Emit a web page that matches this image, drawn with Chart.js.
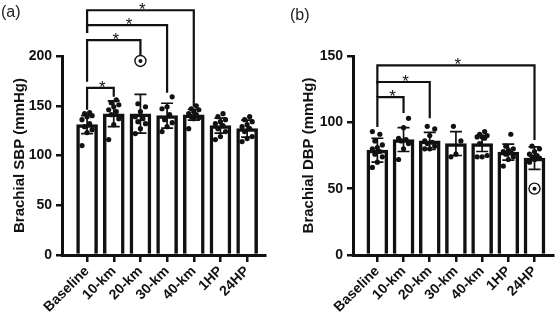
<!DOCTYPE html>
<html><head><meta charset="utf-8">
<script src="https://cdn.jsdelivr.net/npm/chart.js@4"></script>
<style>
body{margin:0;background:#fff;width:560px;height:322px;overflow:hidden;position:relative;font-family:"Liberation Sans",Arial,sans-serif}
.panel{position:absolute;top:0;width:280px;height:322px}
.lab{position:absolute;font-size:16px;color:#222;line-height:1}
</style></head><body>
<div class="panel" style="left:0"><canvas id="cA" width="280" height="322"></canvas></div>
<div class="panel" style="left:280px"><canvas id="cB" width="280" height="322"></canvas></div>
<div class="lab" style="left:1px;top:4px">(a)</div>
<div class="lab" style="left:290px;top:7px">(b)</div>
<script>
// ---------- data ----------
const categories = ['Baseline','10-km','20-km','30-km','40-km','1HP','24HP'];

// Panel (a): brachial SBP
const sbpMean = [131, 142, 142, 140, 141, 130, 127];
const sbpSD   = [9, 13, 19.5, 12.5, 5.5, 7.5, 8.5];
const sbpPoints = [
  [110, 123, 126, 129, 132, 136, 139, 140, 142, 143],
  [116, 131, 137, 141, 144, 146, 149, 151, 153, 156],
  [122, 127, 132, 134, 137, 139, 144, 149, 152],
  [124, 129, 133, 136, 141, 147, 149, 159],
  [127, 137, 138, 139, 141, 142, 144, 146, 147, 150],
  [116, 119, 124, 127, 130, 132, 134, 136, 139, 142],
  [114, 117, 119, 124, 127, 129, 131, 134, 136, 139]
];
const sbpOutliers = [null, null, 195, null, null, null, null];
const sbpTicks = [0, 50, 100, 150, 200];
const sbpBracketTo        = [4, 3, 2, 1];
const sbpBracketLevel     = [246, 231, 216, 168];
const sbpBracketLeftEnd   = [223, 223, 174, 146];
const sbpBracketRightEnd  = [149, 163, 201, 159];

// Panel (b): brachial DBP
const dbpMean = [79, 87, 86, 84, 84, 77.5, 73];
const dbpSD   = [9, 9, 6.4, 9, 6, 6, 8.5];
const dbpPoints = [
  [66, 70, 74, 76, 78, 80, 81, 83, 86, 91, 93],
  [72, 80, 84, 86, 87, 88, 96, 103],
  [80, 80, 82, 84, 85, 86, 90, 95, 97],
  [74, 76, 86, 97],
  [74, 74, 75, 84, 88, 89, 89, 90, 91, 93],
  [67, 72, 74, 76, 77, 78, 79, 80, 82, 91],
  [70, 72, 73, 74, 75, 76, 78, 80, 82]
];
const dbpOutliers = [null, null, null, null, null, null, 50];
const dbpTicks = [0, 50, 100, 150];
const dbpBracketTo        = [6, 2, 1];
const dbpBracketLevel     = [143, 130.4, 119];
const dbpBracketLeftEnd   = [129, 119, 96.5];
const dbpBracketRightEnd  = [86.7, 103, 107];

// ---------- drawing ----------
const FONT = '"Liberation Sans", Arial, sans-serif';
function jitter(k){ return (((k * 7) % 5) - 2) * 0.095; }

const overlay = {
  id: 'overlay',
  afterDatasetsDraw(chart) {
    const o = chart.options.plugins.overlay;
    const xs = chart.scales.x, ys = chart.scales.y, ctx = chart.ctx;
    ctx.save();
    ctx.strokeStyle = '#111'; ctx.lineWidth = 1.7;
    o.mean.forEach((m, i) => {
      const x = xs.getPixelForValue(i);
      const yt = ys.getPixelForValue(m + o.sd[i]);
      const yb = ys.getPixelForValue(m - o.sd[i]);
      ctx.beginPath();
      ctx.moveTo(x, yt); ctx.lineTo(x, yb);
      ctx.moveTo(x - 6, yt); ctx.lineTo(x + 6, yt);
      ctx.moveTo(x - 6, yb); ctx.lineTo(x + 6, yb);
      ctx.stroke();
    });
    ctx.restore();
  },
  afterDraw(chart) {
    const o = chart.options.plugins.overlay;
    const xs = chart.scales.x, ys = chart.scales.y, ctx = chart.ctx;
    ctx.save();
    ctx.strokeStyle = '#111'; ctx.lineWidth = 2.2; ctx.lineJoin = 'miter';
    ctx.fillStyle = '#111';
    ctx.font = '17px ' + FONT;
    ctx.textAlign = 'center'; ctx.textBaseline = 'alphabetic';
    o.to.forEach((t, k) => {
      const x0 = xs.getPixelForValue(0), x1 = xs.getPixelForValue(t);
      const yl = ys.getPixelForValue(o.level[k]);
      ctx.beginPath();
      ctx.moveTo(x0, ys.getPixelForValue(o.leftEnd[k]));
      ctx.lineTo(x0, yl); ctx.lineTo(x1, yl);
      ctx.lineTo(x1, ys.getPixelForValue(o.rightEnd[k]));
      ctx.stroke();
      ctx.fillText('*', (x0 + x1) / 2 + 2, yl + 5);
    });
    ctx.restore();
  }
};

function makeChart(id, p) {
  const pts = [];
  p.points.forEach((arr, i) => arr.forEach((v, k) => pts.push({x: i + jitter(k), y: v})));
  const outs = [];
  p.outliers.forEach((v, i) => { if (v !== null) outs.push({x: i, y: v}); });
  const bars = p.mean.map((m, i) => ({x: i, y: m}));
  return new Chart(document.getElementById(id), {
    type: 'bar',
    data: { datasets: [
      { type: 'scatter', data: outs, pointRadius: 2, pointBackgroundColor: '#111', pointBorderWidth: 0, order: 0, clip: false },
      { type: 'scatter', data: outs, pointRadius: 5.5, pointBackgroundColor: '#fff', pointBorderColor: '#111', pointBorderWidth: 1.4, order: 1, clip: false },
      { type: 'scatter', data: pts, pointRadius: 2.6, pointBackgroundColor: '#111', pointBorderWidth: 0, order: 2, clip: false },
      { type: 'bar', data: bars, backgroundColor: '#fff', borderColor: '#111', borderWidth: 3.5, barThickness: 21, borderSkipped: 'start', order: 3 }
    ]},
    options: {
      responsive: false, animation: false, devicePixelRatio: 1,
      layout: { padding: { top: 56, right: p.padRight, left: 0, bottom: 0 } },
      plugins: { legend: { display: false }, tooltip: { enabled: false },
        overlay: { mean: p.mean, sd: p.sd, to: p.to, level: p.level, leftEnd: p.leftEnd, rightEnd: p.rightEnd } },
      scales: {
        x: {
          type: 'linear', min: p.xmin, max: p.xmax, offset: false,
          afterBuildTicks: s => { s.ticks = categories.map((c, i) => ({value: i})); },
          afterFit: s => { s.height = 67; s.paddingLeft = 0; s.paddingRight = 0; },
          grid: { display: true, offset: false, drawOnChartArea: false, drawTicks: true, tickLength: 7, color: '#111', lineWidth: 2.5 },
          border: { display: true, color: '#111', width: 3 },
          ticks: { autoSkip: false, minRotation: 45, maxRotation: 45, padding: 1, color: '#111',
                   font: { family: FONT, size: 14, weight: 'bold' },
                   callback: v => categories[v] }
        },
        y: {
          min: 0, max: p.ymax,
          afterBuildTicks: s => { s.ticks = p.ticks.map(v => ({value: v})); },
          afterFit: s => { s.width = p.yWidth; s.paddingTop = 0; s.paddingBottom = 0; },
          grid: { display: true, drawOnChartArea: false, drawTicks: true, tickLength: 6, color: '#111', lineWidth: 2.5 },
          border: { display: true, color: '#111', width: 3 },
          ticks: { padding: 4, color: '#111', font: { family: FONT, size: 14, weight: 'bold' } },
          title: { display: true, text: p.title, color: '#111', padding: { top: p.titlePad, bottom: 0 },
                   font: { family: FONT, size: 15, weight: 'bold' } }
        }
      }
    },
    plugins: [overlay]
  });
}

makeChart('cA', { mean: sbpMean, sd: sbpSD, points: sbpPoints, outliers: sbpOutliers, ticks: sbpTicks,
  to: sbpBracketTo, level: sbpBracketLevel, leftEnd: sbpBracketLeftEnd, rightEnd: sbpBracketRightEnd,
  ymax: 200, xmin: -0.94, xmax: 6.67, yWidth: 62, padRight: 15, titlePad: 11, title: 'Brachial SBP (mmHg)' });
makeChart('cB', { mean: dbpMean, sd: dbpSD, points: dbpPoints, outliers: dbpOutliers, ticks: dbpTicks,
  to: dbpBracketTo, level: dbpBracketLevel, leftEnd: dbpBracketLeftEnd, rightEnd: dbpBracketRightEnd,
  ymax: 150, xmin: -0.93, xmax: 6.71, yWidth: 73, padRight: 2, titlePad: 20, title: 'Brachial DBP (mmHg)' });
</script>
</body></html>
